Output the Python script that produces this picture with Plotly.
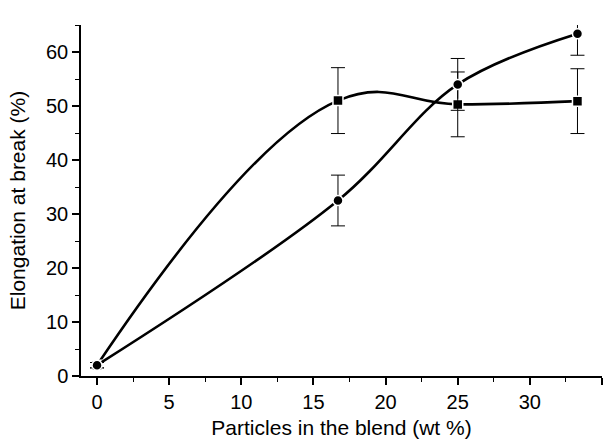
import plotly.graph_objects as go

# Particle content of the blend (wt %)
particles = [0, 16.7, 25, 33.3]

# Elongation at break (%) for the two particle types
elong_circle = [2.0, 32.5, 54.0, 63.4]
err_circle = [0.5, 4.7, 4.8, 4.0]

elong_square = [2.0, 51.0, 50.3, 50.9]
err_square = [0.5, 6.1, 6.0, 6.0]

x_ticks = [0, 5, 10, 15, 20, 25, 30, 35]
y_ticks = [0, 10, 20, 30, 40, 50, 60]

FONT = "Liberation Sans, Arial, Helvetica, sans-serif"

fig = go.Figure()

def add_series(y, err, symbol, smoothing):
    fig.add_trace(go.Scatter(
        x=particles, y=y,
        mode="lines",
        line=dict(color="black", width=2.6, shape="spline", smoothing=smoothing),
        hoverinfo="skip", showlegend=False,
    ))
    fig.add_trace(go.Scatter(
        x=particles, y=y,
        mode="markers",
        marker=dict(symbol=symbol, size=10, color="black",
                    line=dict(color="white", width=1.5)),
        error_y=dict(type="data", array=err, visible=True,
                     color="black", thickness=1, width=7),
        showlegend=False,
    ))

add_series(elong_square, err_square, "square", 1.2)
add_series(elong_circle, err_circle, "circle", 1.0)

fig.update_layout(
    width=613, height=439,
    margin=dict(l=81, r=11, t=25, b=63),
    paper_bgcolor="white", plot_bgcolor="white",
    font=dict(family=FONT, size=20, color="black"),
    showlegend=False,
)

fig.update_xaxes(
    range=[-1.11, 35], tickvals=x_ticks, automargin=False,
    showline=True, linecolor="black", linewidth=1.5,
    ticks="outside", ticklen=7, tickwidth=1.5, tickcolor="black",
    minor=dict(ticks="outside", ticklen=4, tickwidth=1.2, tickcolor="black", dtick=2.5, tick0=0),
    showgrid=False, zeroline=False,
    title=dict(text="Particles in the blend (wt %)", font=dict(size=21)),
    tickfont=dict(size=20),
)
fig.update_yaxes(
    range=[0, 65], tickvals=y_ticks, automargin=False,
    showline=True, linecolor="black", linewidth=1.5,
    ticks="outside", ticklen=7, tickwidth=1.5, tickcolor="black",
    minor=dict(ticks="outside", ticklen=4, tickwidth=1.2, tickcolor="black", dtick=5, tick0=0),
    showgrid=False, zeroline=False,
    title=dict(text="Elongation at break (%)", font=dict(size=21)),
    tickfont=dict(size=20),
)

fig.write_html("out.html")
